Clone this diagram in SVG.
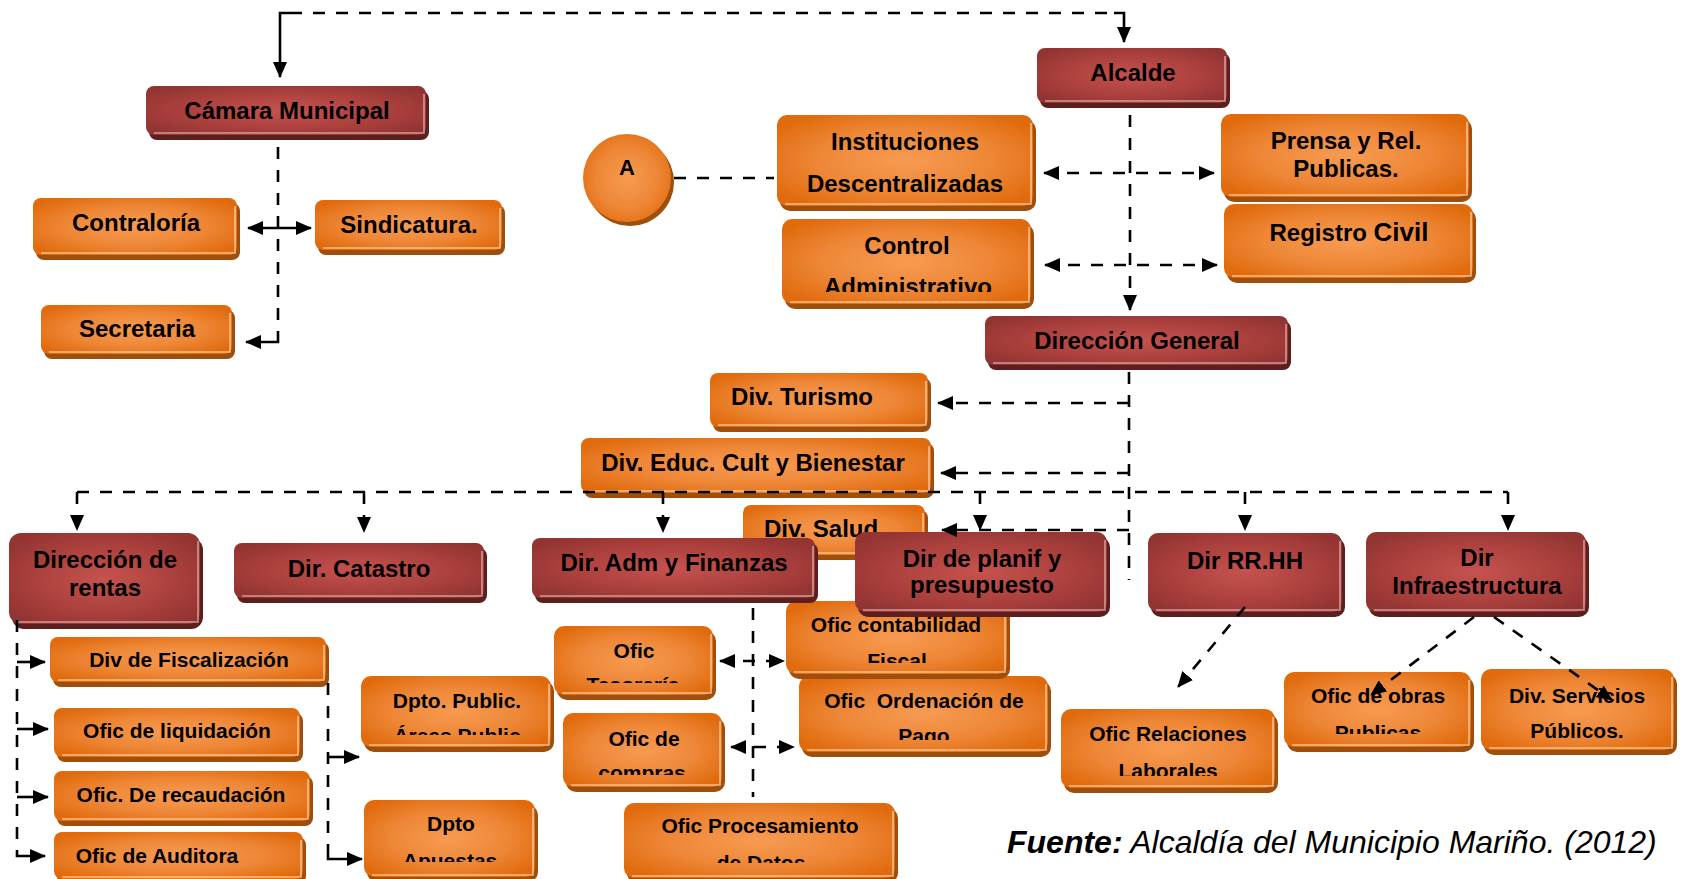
<svg xmlns="http://www.w3.org/2000/svg" width="1685" height="879" viewBox="0 0 1685 879">
<defs>
  <radialGradient id="gO" cx="50%" cy="50%" r="62%">
    <stop offset="0" stop-color="#f79b52"/>
    <stop offset="0.55" stop-color="#ee8737"/>
    <stop offset="1" stop-color="#e06a0c"/>
  </radialGradient>
  <radialGradient id="gR" cx="50%" cy="50%" r="62%">
    <stop offset="0" stop-color="#c5534f"/>
    <stop offset="0.6" stop-color="#ab403d"/>
    <stop offset="1" stop-color="#923432"/>
  </radialGradient>
  <marker id="ah" viewBox="0 0 16 14" refX="15" refY="7" markerWidth="16" markerHeight="14" markerUnits="userSpaceOnUse" orient="auto-start-reverse">
    <path d="M0,0 L16,7 L0,14 Z" fill="#000"/>
  </marker>
  <clipPath id="k-control"><rect x="782" y="219" width="253" height="73"/></clipPath>
  <clipPath id="k-dptopublic"><rect x="361" y="676" width="194" height="59"/></clipPath>
  <clipPath id="k-apuestas"><rect x="364" y="800" width="175" height="62"/></clipPath>
  <clipPath id="k-tesoreria"><rect x="554" y="626" width="163" height="57"/></clipPath>
  <clipPath id="k-compras"><rect x="563" y="713" width="163" height="62"/></clipPath>
  <clipPath id="k-ordenacion"><rect x="799" y="676" width="253" height="64"/></clipPath>
  <clipPath id="k-contabilidad"><rect x="786" y="601" width="225" height="62"/></clipPath>
  <clipPath id="k-procesamiento"><rect x="624" y="803" width="275" height="60"/></clipPath>
  <clipPath id="k-relaciones"><rect x="1061" y="709" width="218" height="67"/></clipPath>
  <clipPath id="k-obras"><rect x="1284" y="672" width="191" height="62"/></clipPath>
</defs>
<style>
  .o .sh { fill: #a04e0b; }
  .o .bd { fill: url(#gO); }
  .o .hl { fill: none; stroke: #fbd2aa; stroke-width: 1.6; opacity: 0.8; }
  .r .sh { fill: #5c1f1d; }
  .r .bd { fill: url(#gR); }
  .r .hl { fill: none; stroke: #e4b0ae; stroke-width: 1.6; opacity: 0.8; }
  text { font-family: "Liberation Sans", Arial, sans-serif; font-weight: bold; fill: #000; text-anchor: middle; }
  .t24 { font-size: 24px; }
  .t21 { font-size: 21px; }
  .c { fill: none; stroke: #000; stroke-width: 2.6; stroke-dasharray: 12 11; }
  .s { fill: none; stroke: #000; stroke-width: 2.6; }
  .ar { marker-end: url(#ah); }
  .ar2 { marker-start: url(#ah); marker-end: url(#ah); }
</style>
<rect width="1685" height="879" fill="#fff"/>

<!-- upper council block -->
<g id="n-camara" class="r">
  <rect class="sh" x="149" y="91" width="280" height="49" rx="8"/>
  <rect class="bd" x="146" y="86" width="280" height="49" rx="8"/>
  <path class="hl" d="M154,133 H424 V94"/>
  <text class="t24" x="287" y="119">Cámara Municipal</text>
</g>
<g id="n-contraloria" class="o">
  <rect class="sh" x="36" y="203" width="204" height="57" rx="8"/>
  <rect class="bd" x="33" y="198" width="204" height="57" rx="8"/>
  <path class="hl" d="M41,253 H235 V206"/>
  <text class="t24" x="136" y="231">Contraloría</text>
</g>
<g id="n-sindicatura" class="o">
  <rect class="sh" x="318" y="205" width="187" height="50" rx="8"/>
  <rect class="bd" x="315" y="200" width="187" height="50" rx="8"/>
  <path class="hl" d="M323,248 H500 V208"/>
  <text class="t24" x="409" y="233">Sindicatura.</text>
</g>
<g id="n-secretaria" class="o">
  <rect class="sh" x="44" y="310" width="191" height="49" rx="8"/>
  <rect class="bd" x="41" y="305" width="191" height="49" rx="8"/>
  <path class="hl" d="M49,352 H230 V313"/>
  <text class="t24" x="137" y="337">Secretaria</text>
</g>

<!-- mayor block -->
<g id="n-a" class="o">
  <circle class="sh" cx="630" cy="182" r="44"/>
  <circle class="bd" cx="627" cy="178" r="44"/>
  <text x="627" y="175" style="font-size:22px">A</text>
</g>
<g id="n-alcalde" class="r">
  <rect class="sh" x="1040" y="53" width="190" height="55" rx="8"/>
  <rect class="bd" x="1037" y="48" width="190" height="55" rx="8"/>
  <path class="hl" d="M1045,101 H1225 V56"/>
  <text class="t24" x="1133" y="81">Alcalde</text>
</g>
<g id="n-instituciones" class="o">
  <rect class="sh" x="780" y="120" width="256" height="91" rx="10"/>
  <rect class="bd" x="777" y="115" width="256" height="91" rx="10"/>
  <path class="hl" d="M785,204 H1031 V123"/>
  <text class="t24" x="905" y="150">Instituciones</text>
  <text class="t24" x="905" y="192">Descentralizadas</text>
</g>
<g id="n-control" class="o">
  <rect class="sh" x="785" y="224" width="249" height="85" rx="10"/>
  <rect class="bd" x="782" y="219" width="249" height="85" rx="10"/>
  <path class="hl" d="M790,302 H1029 V227"/>
  <text class="t24" x="907" y="254">Control</text>
  <text class="t24" x="908" y="295" clip-path="url(#k-control)">Administrativo</text>
</g>
<g id="n-prensa" class="o">
  <rect class="sh" x="1224" y="119" width="248" height="83" rx="10"/>
  <rect class="bd" x="1221" y="114" width="248" height="83" rx="10"/>
  <path class="hl" d="M1229,195 H1467 V122"/>
  <text class="t24" x="1346" y="149">Prensa y Rel.</text>
  <text class="t24" x="1346" y="177">Publicas.</text>
</g>
<g id="n-registro" class="o">
  <rect class="sh" x="1227" y="209" width="249" height="74" rx="10"/>
  <rect class="bd" x="1224" y="204" width="249" height="74" rx="10"/>
  <path class="hl" d="M1232,276 H1471 V212"/>
  <text class="t24" x="1349" y="241">Registro <tspan style="font-size:26px">Civil</tspan></text>
</g>
<g id="n-dirgeneral" class="r">
  <rect class="sh" x="988" y="321" width="303" height="49" rx="8"/>
  <rect class="bd" x="985" y="316" width="303" height="49" rx="8"/>
  <path class="hl" d="M993,363 H1286 V324"/>
  <text class="t24" x="1137" y="349">Dirección General</text>
</g>
<g id="n-turismo" class="o">
  <rect class="sh" x="713" y="378" width="218" height="54" rx="8"/>
  <rect class="bd" x="710" y="373" width="218" height="54" rx="8"/>
  <path class="hl" d="M718,425 H926 V381"/>
  <text class="t24" x="802" y="405">Div. Turismo</text>
</g>
<g id="n-educ" class="o">
  <rect class="sh" x="584" y="443" width="350" height="55" rx="8"/>
  <rect class="bd" x="581" y="438" width="350" height="55" rx="8"/>
  <path class="hl" d="M589,491 H929 V446"/>
  <text class="t24" x="753" y="471">Div. Educ. Cult y Bienestar</text>
</g>
<g id="n-salud" class="o">
  <rect class="sh" x="746" y="510" width="182" height="50" rx="8"/>
  <rect class="bd" x="743" y="505" width="182" height="50" rx="8"/>
  <path class="hl" d="M751,553 H923 V513"/>
  <text class="t24" x="821" y="537">Div. Salud</text>
</g>

<!-- offices under the directorates -->
<g id="n-fiscalizacion" class="o">
  <rect class="sh" x="53" y="642" width="276" height="45" rx="8"/>
  <rect class="bd" x="50" y="637" width="276" height="45" rx="8"/>
  <path class="hl" d="M58,680 H324 V645"/>
  <text class="t21" x="189" y="667">Div de Fiscalización</text>
</g>
<g id="n-liquidacion" class="o">
  <rect class="sh" x="57" y="713" width="246" height="49" rx="8"/>
  <rect class="bd" x="54" y="708" width="246" height="49" rx="8"/>
  <path class="hl" d="M62,755 H298 V716"/>
  <text class="t21" x="177" y="738">Ofic de liquidación</text>
</g>
<g id="n-recaudacion" class="o">
  <rect class="sh" x="57" y="776" width="256" height="50" rx="8"/>
  <rect class="bd" x="54" y="771" width="256" height="50" rx="8"/>
  <path class="hl" d="M62,819 H308 V779"/>
  <text class="t21" x="181" y="802">Ofic. De recaudación</text>
</g>
<g id="n-auditora" class="o">
  <rect class="sh" x="57" y="837" width="249" height="47" rx="8"/>
  <rect class="bd" x="54" y="832" width="249" height="47" rx="8"/>
  <path class="hl" d="M62,877 H301 V840"/>
  <text class="t21" x="157" y="863">Ofic de Auditora</text>
</g>
<g id="n-dptopublic" class="o">
  <rect class="sh" x="364" y="681" width="190" height="71" rx="10"/>
  <rect class="bd" x="361" y="676" width="190" height="71" rx="10"/>
  <path class="hl" d="M369,745 H549 V684"/>
  <text class="t21" x="457" y="708">Dpto. Public.</text>
  <text class="t21" x="457" y="743" clip-path="url(#k-dptopublic)">Áreas Public</text>
</g>
<g id="n-apuestas" class="o">
  <rect class="sh" x="367" y="805" width="171" height="77" rx="10"/>
  <rect class="bd" x="364" y="800" width="171" height="77" rx="10"/>
  <path class="hl" d="M372,875 H533 V808"/>
  <text class="t21" x="451" y="831">Dpto</text>
  <text class="t21" x="450" y="868" clip-path="url(#k-apuestas)">Apuestas</text>
</g>
<g id="n-tesoreria" class="o">
  <rect class="sh" x="557" y="631" width="159" height="69" rx="10"/>
  <rect class="bd" x="554" y="626" width="159" height="69" rx="10"/>
  <path class="hl" d="M562,693 H711 V634"/>
  <text class="t21" x="634" y="658">Ofic</text>
  <text class="t21" x="633" y="692" clip-path="url(#k-tesoreria)">Tesorería</text>
</g>
<g id="n-compras" class="o">
  <rect class="sh" x="566" y="718" width="159" height="74" rx="10"/>
  <rect class="bd" x="563" y="713" width="159" height="74" rx="10"/>
  <path class="hl" d="M571,785 H720 V721"/>
  <text class="t21" x="644" y="746">Ofic de</text>
  <text class="t21" x="642" y="780" clip-path="url(#k-compras)">compras</text>
</g>
<g id="n-ordenacion" class="o">
  <rect class="sh" x="802" y="681" width="249" height="76" rx="10"/>
  <rect class="bd" x="799" y="676" width="249" height="76" rx="10"/>
  <path class="hl" d="M807,750 H1046 V684"/>
  <text class="t21" x="924" y="708" style="white-space:pre">Ofic  Ordenación de</text>
  <text class="t21" x="924" y="743" clip-path="url(#k-ordenacion)">Pago</text>
</g>
<g id="n-contabilidad" class="o">
  <rect class="sh" x="789" y="606" width="221" height="73" rx="10"/>
  <rect class="bd" x="786" y="601" width="221" height="73" rx="10"/>
  <path class="hl" d="M794,672 H1005 V609"/>
  <text class="t21" x="896" y="632">Ofic contabilidad</text>
  <text class="t21" x="897" y="668" clip-path="url(#k-contabilidad)">Fiscal</text>
</g>
<g id="n-procesamiento" class="o">
  <rect class="sh" x="627" y="808" width="271" height="75" rx="10"/>
  <rect class="bd" x="624" y="803" width="271" height="75" rx="10"/>
  <path class="hl" d="M632,876 H893 V811"/>
  <text class="t21" x="760" y="833">Ofic Procesamiento</text>
  <text class="t21" x="761" y="870" clip-path="url(#k-procesamiento)">de Datos</text>
</g>
<g id="n-relaciones" class="o">
  <rect class="sh" x="1064" y="714" width="214" height="79" rx="10"/>
  <rect class="bd" x="1061" y="709" width="214" height="79" rx="10"/>
  <path class="hl" d="M1069,786 H1273 V717"/>
  <text class="t21" x="1168" y="741">Ofic Relaciones</text>
  <text class="t21" x="1168" y="778" clip-path="url(#k-relaciones)">Laborales</text>
</g>
<g id="n-obras" class="o">
  <rect class="sh" x="1287" y="677" width="187" height="75" rx="10"/>
  <rect class="bd" x="1284" y="672" width="187" height="75" rx="10"/>
  <path class="hl" d="M1292,745 H1469 V680"/>
  <text class="t21" x="1378" y="703">Ofic de obras</text>
  <text class="t21" x="1378" y="740" clip-path="url(#k-obras)">Publicas</text>
</g>
<g id="n-servicios" class="o">
  <rect class="sh" x="1484" y="674" width="193" height="81" rx="10"/>
  <rect class="bd" x="1481" y="669" width="193" height="81" rx="10"/>
  <path class="hl" d="M1489,748 H1672 V677"/>
  <text class="t21" x="1577" y="703">Div. Servicios</text>
  <text class="t21" x="1577" y="738">Públicos.</text>
</g>

<!-- directorates row -->
<g id="n-rentas" class="r">
  <rect class="sh" x="12" y="538" width="191" height="91" rx="12"/>
  <rect class="bd" x="9" y="533" width="191" height="91" rx="12"/>
  <path class="hl" d="M17,622 H198 V541"/>
  <text class="t24" x="105" y="568">Dirección de</text>
  <text class="t24" x="105" y="596">rentas</text>
</g>
<g id="n-catastro" class="r">
  <rect class="sh" x="237" y="548" width="250" height="55" rx="8"/>
  <rect class="bd" x="234" y="543" width="250" height="55" rx="8"/>
  <path class="hl" d="M242,596 H482 V551"/>
  <text class="t24" x="359" y="577">Dir. Catastro</text>
</g>
<g id="n-adm" class="r">
  <rect class="sh" x="535" y="543" width="283" height="60" rx="8"/>
  <rect class="bd" x="532" y="538" width="283" height="60" rx="8"/>
  <path class="hl" d="M540,596 H813 V546"/>
  <text class="t24" x="674" y="571">Dir. Adm y Finanzas</text>
</g>
<g id="n-planif" class="r">
  <rect class="sh" x="858" y="537" width="252" height="80" rx="10"/>
  <rect class="bd" x="855" y="532" width="252" height="80" rx="10"/>
  <path class="hl" d="M863,610 H1105 V540"/>
  <text class="t24" x="982" y="567">Dir de planif y</text>
  <text class="t24" x="982" y="593">presupuesto</text>
</g>
<g id="n-rrhh" class="r">
  <rect class="sh" x="1151" y="538" width="194" height="79" rx="10"/>
  <rect class="bd" x="1148" y="533" width="194" height="79" rx="10"/>
  <path class="hl" d="M1156,610 H1340 V541"/>
  <text class="t24" x="1245" y="569">Dir RR.HH</text>
</g>
<g id="n-infra" class="r">
  <rect class="sh" x="1369" y="537" width="220" height="80" rx="10"/>
  <rect class="bd" x="1366" y="532" width="220" height="80" rx="10"/>
  <path class="hl" d="M1374,610 H1584 V540"/>
  <text class="t24" x="1477" y="566">Dir</text>
  <text class="t24" x="1477" y="594">Infraestructura</text>
</g>

<!-- connectors -->
<g id="connectors">
  <path class="s ar" d="M290,13 H280 V77"/>
  <path class="c" d="M290,13 H1114"/>
  <path class="s ar" d="M1114,13 H1124 V42"/>
  <path class="c" d="M278,147 V336"/>
  <path class="s ar" d="M278,336 V342 H246"/>
  <path class="s ar2" d="M248,228 H311"/>
  <path class="c" d="M674,178 H774"/>
  <path class="c ar" d="M1130,115 V310"/>
  <path class="c ar2" d="M1044,173 H1214"/>
  <path class="c ar2" d="M1045,265 H1217"/>
  <path class="c" d="M1129,372 V580"/>
  <path class="c ar" d="M1129,403 H938"/>
  <path class="c ar" d="M1129,473 H941"/>
  <path class="c ar" d="M1129,530 H942"/>
  <path class="c" d="M77,492 H1508"/>
  <path class="c ar" d="M77,492 V530"/>
  <path class="c ar" d="M364,492 V532"/>
  <path class="c ar" d="M663,492 V532"/>
  <path class="c ar" d="M980,492 V530"/>
  <path class="c ar" d="M1245,492 V530"/>
  <path class="c ar" d="M1508,492 V530"/>
  <path class="c" d="M17,620 V850"/>
  <path class="s ar" d="M17,850 V856 H45"/>
  <path class="s ar" d="M17,662 H45"/>
  <path class="s ar" d="M17,729 H48"/>
  <path class="s ar" d="M17,797 H48"/>
  <path class="c" d="M328,683 V853"/>
  <path class="s ar" d="M328,853 V859 H362"/>
  <path class="s ar" d="M328,757 H359"/>
  <path class="c" d="M753,608 V797"/>
  <path class="c ar2" d="M720,661 H784"/>
  <path class="c ar2" d="M731,747 H794"/>
  <path class="c ar" d="M1245,607 L1178,687"/>
  <path class="c ar" d="M1474,617 L1371,695"/>
  <path class="c ar" d="M1494,617 L1612,700"/>
</g>

<text x="1007" y="853" style="font-size:32px;font-style:italic;text-anchor:start">Fuente:<tspan style="font-weight:normal"> Alcaldía del Municipio Mariño. (2012)</tspan></text>
</svg>
